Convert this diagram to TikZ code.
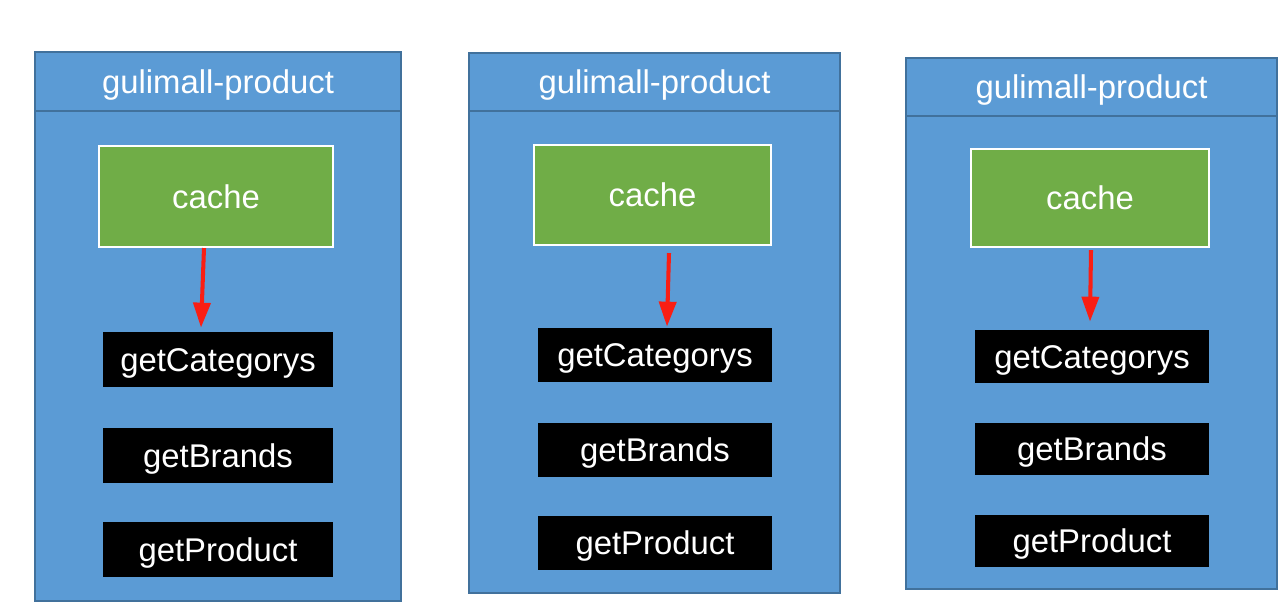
\documentclass[tikz,border=0pt]{standalone}
\usepackage{fontspec}
\setmainfont{Liberation Sans}
\usepackage{tikz}
\usetikzlibrary{positioning, arrows.meta}
\usepackage{xcolor}
\definecolor{panelblue}{RGB}{91,155,213}
\definecolor{edgeblue}{RGB}{65,113,156}
\definecolor{cachegreen}{RGB}{112,173,71}
\definecolor{arrowred}{RGB}{250,30,20}

\begin{document}
\begin{tikzpicture}[x=0.02cm, y=-0.02cm,
    font=\fontsize{18.7}{22}\selectfont, text=white,
    text height=13.6pt, text depth=0.5pt,
    panel/.style={draw=edgeblue, line width=0.8pt, fill=panelblue, inner sep=0pt},
    header/.style={draw=edgeblue, line width=0.8pt, fill=panelblue, inner sep=0pt},
    cachebox/.style={draw=white, line width=1.2pt, fill=cachegreen, inner sep=0pt,
                     minimum height=2cm},
    apibox/.style={fill=black, inner sep=0pt, minimum width=4.68cm},
    redarrow/.style={draw=arrowred, line width=2.3pt,
                     -{Triangle[width=0.34cm, length=0.5cm]}}]
  \useasboundingbox (0,0) rectangle (1288,608);
  % Instance 1
  \node[panel, minimum width=7.32cm, minimum height=10.98cm] (box1) at (218,326.5) {};
  \node[header, minimum width=7.32cm, minimum height=1.18cm] (head1) at (218,81.5) {gulimall-product};
  \node[cachebox, minimum width=4.68cm, minimum height=2.02cm] (cache1) at (216,196.5) {cache};
  \node[apibox, minimum width=4.6cm, minimum height=1.1cm] (cat1) at (218,359.5) {getCategorys};
  \node[apibox, minimum width=4.6cm, minimum height=1.1cm] (brand1) at (218,455.5) {getBrands};
  \node[apibox, minimum width=4.6cm, minimum height=1.1cm] (prod1) at (218,549.5) {getProduct};
  % Instance 2
  \node[panel, minimum width=7.42cm, minimum height=10.8cm] (box2) at (654.5,323) {};
  \node[header, minimum width=7.42cm, minimum height=1.16cm] (head2) at (654.5,82) {gulimall-product};
  \node[cachebox, minimum width=4.74cm] (cache2) at (652.5,195) {cache};
  \node[apibox, minimum height=1.08cm] (cat2) at (655,355) {getCategorys};
  \node[apibox, minimum height=1.08cm] (brand2) at (655,450) {getBrands};
  \node[apibox, minimum height=1.08cm] (prod2) at (655,543) {getProduct};
  % Instance 3
  \node[panel, minimum width=7.42cm, minimum height=10.62cm] (box3) at (1091.5,323.5) {};
  \node[header, minimum width=7.42cm, minimum height=1.16cm] (head3) at (1091.5,87) {gulimall-product};
  \node[cachebox, minimum width=4.76cm, minimum height=1.96cm] (cache3) at (1090,198) {cache};
  \node[apibox, minimum height=1.06cm] (cat3) at (1092,356.5) {getCategorys};
  \node[apibox, minimum height=1.06cm] (brand3) at (1092,449) {getBrands};
  \node[apibox, minimum height=1.06cm] (prod3) at (1092,541) {getProduct};
  % cache -> first call
  \draw[redarrow] ([xshift=-0.24cm]cache1.south) -- ([xshift=-0.34cm, yshift=0.08cm]cat1.north);
  \draw[redarrow] ([xshift=0.33cm, yshift=-0.14cm]cache2.south) -- ([xshift=0.24cm, yshift=0.02cm]cat2.north);
  \draw[redarrow] ([xshift=0.02cm, yshift=-0.04cm]cache3.south) -- ([xshift=-0.04cm, yshift=0.16cm]cat3.north);
\end{tikzpicture}
\end{document}
